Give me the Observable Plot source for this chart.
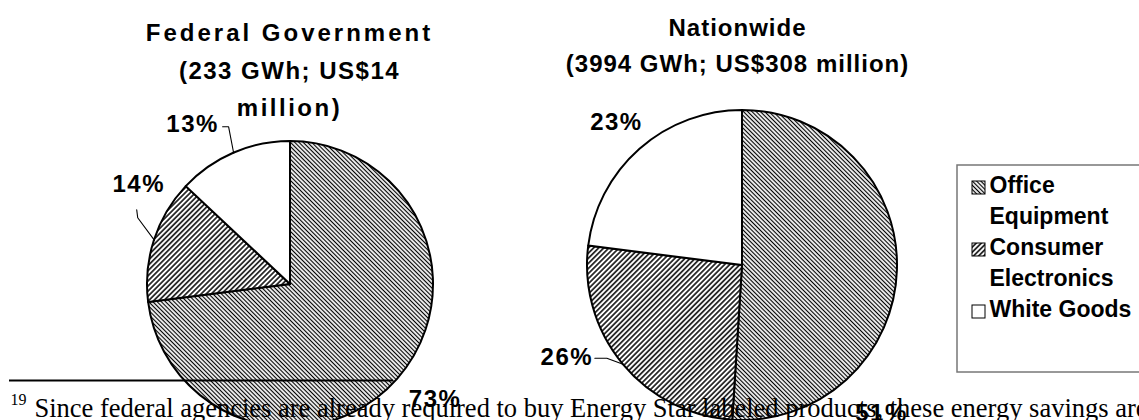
<!DOCTYPE html>
<html><head><meta charset="utf-8">
<script src="https://cdn.jsdelivr.net/npm/d3@7"></script>
<script src="https://cdn.jsdelivr.net/npm/@observablehq/plot@0.6"></script>
<style>
html,body{margin:0;padding:0;background:#fff;}
#chart{width:1139px;height:420px;overflow:hidden;}
</style></head><body><div id="chart"></div>
<script>
// ---------- data ----------
const categories = ["Office Equipment", "Consumer Electronics", "White Goods"];
const legendLines = [["Office", "Equipment"], ["Consumer", "Electronics"], ["White Goods"]];
const federalShares = [73, 14, 13];
const nationwideShares = [51, 26, 23];
const federalTitle = ["Federal Government", "(233 GWh; US$14", "million)"];
const nationwideTitle = ["Nationwide", "(3994 GWh; US$308 million)"];
const footnoteMark = "19";
const footnoteText = "Since federal agencies are already required to buy Energy Star labeled products, these energy savings are";

// ---------- layout / style ----------
const W = 1139, H = 420;
const SANS = "'Liberation Sans', Arial, sans-serif";
const SERIF = "'Liberation Serif', 'Times New Roman', serif";
const sliceFills = ["url(#hatch-office)", "url(#hatch-consumer)", "#ffffff"];
const hatch = [
  {id: "hatch-office", angle: -45, size: 3, width: 1.2},
  {id: "hatch-consumer", angle: 45, size: 3.6, width: 1.5}
];
const pies = [
  {name: "federal", shares: federalShares, cx: 290, cy: 284, r: 143,
   title: federalTitle, titleX: 289, titleBase: [40, 78, 115], titleSpacing: [3, 1.5, 2.5]},
  {name: "nationwide", shares: nationwideShares, cx: 742, cy: 265, r: 155,
   title: nationwideTitle, titleX: 737, titleBase: [35, 71], titleSpacing: [1, 1]}
];
// label placement relative to slice mid-angle (degrees) and radius factor; optional leader
const labelPlacement = {
  federal: [
    {dA: -3, rf: 1.29},
    {dA: 15.3, rf: 1.27, leader: [[-1, 33], [-2, 25]]},
    {dA: -8.1, rf: 1.31, leader: [[36, 2], [30, 2]]}
  ],
  nationwide: [
    {dA: 45, rf: 1.31},
    {dA: 11.9, rf: 1.28, leader: [[40, 0.5], [28, 0.5]]},
    {dA: 0, rf: 1.23}
  ]
};
const legendBox = {x1: 957, x2: 1170, y1: 165, y2: 372};
const legendTextX = 989, legendSwatchX = 972, legendSwatch = 13;
const legendBaselines = [[192, 223], [254, 285], [316]];

// ---------- derived rows ----------
const sliceRows = [];
const labelRows = [];
const leaderRows = [];
pies.forEach(p => {
  const arcs = d3.pie().sort(null).value(d => d)(p.shares);
  arcs.forEach((a, i) => {
    sliceRows.push({cx: p.cx, cy: p.cy, r: p.r, start: a.startAngle, end: a.endAngle, fill: sliceFills[i], category: categories[i]});
    const mid = (a.startAngle + a.endAngle) / 2;
    const pl = labelPlacement[p.name][i];
    const th = mid + pl.dA * Math.PI / 180;
    const R = p.r * pl.rf;
    const lx = p.cx + R * Math.sin(th), ly = p.cy - R * Math.cos(th);
    labelRows.push({x: lx, y: ly, text: `${p.shares[i]}%`});
    if (pl.leader) {
      const id = p.name + i;
      leaderRows.push({id, x: p.cx + p.r * Math.sin(mid), y: p.cy - p.r * Math.cos(mid)});
      pl.leader.forEach(([dx, dy]) => leaderRows.push({id, x: lx + dx, y: ly + dy}));
    }
  });
});
const titleRows = [];
pies.forEach(p => p.title.forEach((t, k) => titleRows.push({x: p.titleX, y: p.titleBase[k], text: t, spacing: p.titleSpacing[k]})));
const legendTextRows = [];
const legendSwatchRows = [];
legendLines.forEach((lines, i) => {
  lines.forEach((t, k) => legendTextRows.push({x: legendTextX, y: legendBaselines[i][k], text: t}));
  const b = legendBaselines[i][0];
  legendSwatchRows.push({x1: legendSwatchX, x2: legendSwatchX + legendSwatch, y1: b - 11, y2: b - 11 + legendSwatch, fill: sliceFills[i]});
});

// custom pie mark drawn through Plot's scales
const pieMark = (index, scales) => {
  const sx = scales && scales.x ? scales.x : (v => v);
  const sy = scales && scales.y ? scales.y : (v => v);
  const g = d3.create("svg:g").attr("aria-label", "pies");
  const defs = g.append("defs");
  hatch.forEach(h => {
    const pat = defs.append("pattern").attr("id", h.id).attr("patternUnits", "userSpaceOnUse")
      .attr("width", h.size).attr("height", h.size).attr("patternTransform", `rotate(${h.angle})`);
    pat.append("rect").attr("width", h.size).attr("height", h.size).attr("fill", "#fff");
    pat.append("line").attr("x1", h.size / 2).attr("x2", h.size / 2).attr("y1", -1).attr("y2", h.size + 1)
      .attr("stroke", "#000").attr("stroke-width", h.width);
  });
  const arc = d3.arc();
  sliceRows.forEach(s => {
    const X = sx(s.cx), Y = sy(s.cy), R = Math.abs(sx(s.cx + s.r) - X);
    g.append("path")
      .attr("transform", `translate(${X},${Y})`)
      .attr("d", arc({innerRadius: 0, outerRadius: R, startAngle: s.start, endAngle: s.end}))
      .attr("fill", s.fill).attr("stroke", "#000").attr("stroke-width", 2).attr("stroke-linejoin", "round");
  });
  return g.node();
};

const chart = Plot.plot({
  width: W, height: H, margin: 0,
  x: {domain: [0, W], range: [0, W], axis: null},
  y: {domain: [0, H], range: [0, H], axis: null},
  color: {type: "identity"},
  style: {background: "#fff"},
  marks: [
    Plot.rect([legendBox], {x1: "x1", x2: "x2", y1: "y1", y2: "y2", fill: "#fff", stroke: "#777", strokeWidth: 1.5}),
    pieMark,
    Plot.rect(legendSwatchRows, {x1: "x1", x2: "x2", y1: "y1", y2: "y2", fill: "fill", stroke: "#000", strokeWidth: 1}),
    Plot.text(legendTextRows, {x: "x", y: "y", text: "text", textAnchor: "start", lineAnchor: "bottom",
      fontSize: 23, fontWeight: "bold", fontFamily: SANS, fill: "#000"}),
    Plot.line(leaderRows, {x: "x", y: "y", z: "id", stroke: "#000", strokeWidth: 1.1}),
    Plot.text(labelRows, {x: "x", y: "y", text: "text", textAnchor: "middle", lineAnchor: "middle",
      fontSize: 24, fontWeight: "bold", fontFamily: SANS, fill: "#000"}),
    Plot.text(titleRows, {x: "x", y: "y", text: "text", textAnchor: "middle", lineAnchor: "bottom",
      fontSize: 24, fontWeight: "bold", fontFamily: SANS, fill: "#000"}),
    Plot.ruleY([380], {x1: 9, x2: 393, stroke: "#000", strokeWidth: 2}),
    Plot.text([footnoteMark], {x: 10, y: 404, text: d => d, textAnchor: "start", lineAnchor: "bottom",
      fontSize: 16, fontFamily: SERIF, fill: "#000"}),
    Plot.text([footnoteText], {x: 34, y: 416, text: d => d, textAnchor: "start", lineAnchor: "bottom",
      fontSize: 26.5, fontFamily: SERIF, fill: "#000"})
  ]
});
// letter spacing as in the reference
const spacingByText = new Map(titleRows.map(r => [r.text, r.spacing]));
labelRows.forEach(r => spacingByText.set(r.text, 1.5));
d3.select(chart).selectAll("text").each(function() {
  const s = spacingByText.get(this.textContent);
  if (s != null) this.setAttribute("letter-spacing", s);
});
document.getElementById("chart").appendChild(chart);
</script>
</body></html>
